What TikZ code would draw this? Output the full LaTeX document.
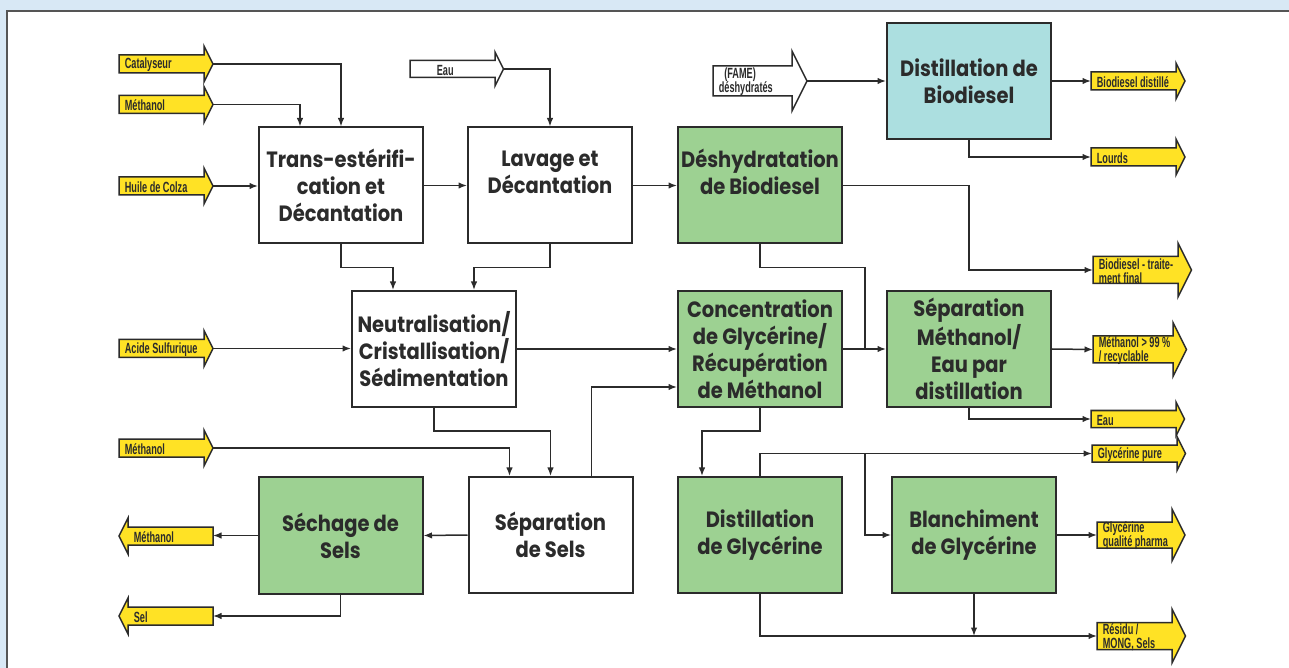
\documentclass[tikz,border=0pt]{standalone}
\usepackage{fontspec}
\setmainfont{Poppins}[FakeStretch=0.88]
\newfontfamily\lblfont{Liberation Sans}[FakeStretch=0.62]
\usetikzlibrary{arrows.meta}

\definecolor{bgblue}{HTML}{D8E8F5}
\definecolor{procgreen}{HTML}{9DD192}
\definecolor{proccyan}{HTML}{ACDFE0}
\definecolor{feedyellow}{HTML}{FFE225}
\definecolor{ink}{HTML}{2B2B2B}

\tikzset{
  proc/.style={draw=ink, line width=0.4mm, fill=white, minimum width=32.8mm,
    minimum height=23.2mm, inner sep=0pt, align=center, text=ink,
    font=\fontsize{12.6}{15.3}\selectfont\bfseries},
  green/.style={proc, fill=procgreen},
  feed/.style={draw=ink, line width=0.3mm, fill=feedyellow},
  feedlbl/.style={inner xsep=1.1mm, inner ysep=0pt, align=left, text=ink,
    font=\lblfont\fontsize{8.4}{8}\selectfont\bfseries},
  flow/.style={draw=ink, line width=0.3mm, -{Latex[length=1.7mm,width=1.3mm]}},
  link/.style={draw=ink, line width=0.3mm}
}

% yellow stream arrows: style, name, x, y, body length, half height, label
\newcommand\feedR[7][]{%
  \filldraw[feed,#1] (#3,#4) ++(0,-#6) -- ++(#5,0) -- ++(0,-#6) -- ++(#6,2*#6)
    -- ++(-#6,2*#6) -- ++(0,-#6) -- ++(-#5,0) -- cycle;
  \coordinate (#2-a) at (#3,#4);
  \path (#3,#4) ++(#5+#6,0) coordinate (#2-b);
  \node[feedlbl, anchor=west] (#2) at (#3,#4+1) {#7};}
\newcommand\feedL[7][]{%
  \filldraw[feed,#1] (#3,#4) ++(0,-#6) -- ++(-#5,0) -- ++(0,-#6) -- ++(-#6,2*#6)
    -- ++(#6,2*#6) -- ++(0,-#6) -- ++(#5,0) -- cycle;
  \coordinate (#2-a) at (#3,#4);
  \node[feedlbl, anchor=west] (#2) at (#3-#5,#4+1) {#7};}

\begin{document}
\begin{tikzpicture}[x=0.2mm, y=-0.2mm]
  \useasboundingbox (0,0) rectangle (1289,668);
  \fill[bgblue] (0,0) rectangle (1289,668);
  \fill[white] (7,11) rectangle (1289,668);
  \draw[line width=0.3mm, ink!80] (7,668) -- (7,11) -- (1289,11);

  % process units
  \node[proc] (T) at (341,185.5) {Trans-estérifi-\\cation et\\Décantation};
  \node[proc] (L) at (550,185.5) {Lavage et\\Décantation\\\mbox{}};
  \node[green] (D) at (760,185.5) {Déshydratation\\de Biodiesel\\\mbox{}};
  \node[proc, fill=proccyan] (DB) at (969,81) {Distillation de\\Biodiesel};
  \node[proc] (N) at (434,349) {Neutralisation/\\Cristallisation/\\Sédimentation};
  \node[green] (C) at (760,349) {Concentration\\de Glycérine/\\Récupération\\de Méthanol};
  \node[green] (SM) at (969,349) {Séparation\\Méthanol/\\Eau par\\distillation};
  \node[proc] (SS) at (550.5,535) {Séparation\\de Sels};
  \node[green] (SC) at (340.5,535.5) {Séchage de\\Sels};
  \node[green] (DG) at (760,535) {Distillation\\de Glycérine};
  \node[green] (B) at (974,535) {Blanchiment\\de Glycérine};

  % feeds and products
  \feedR{cata}{119}{64}{85}{9}{Catalyseur}
  \feedR{meth1}{119}{104.5}{85}{9}{Méthanol}
  \feedR{huile}{119}{186}{85}{9}{Huile de Colza}
  \feedR{acide}{119}{348.5}{85}{9}{Acide Sulfurique}
  \feedR{meth2}{119}{448}{85}{9}{Méthanol}
  \feedR[fill=white]{eau}{410}{69}{85}{8.5}{\hspace{4.2mm}Eau}
  \feedR[fill=white]{fame}{713}{81}{79}{15}{\hspace{1.1mm}(FAME)\\déshydratés}
  \feedR{distil}{1091}{81}{85}{9}{Biodiesel distillé}
  \feedR{lourds}{1091}{157}{85}{9}{Lourds}
  \feedR{btf}{1093}{270}{85}{13.5}{Biodiesel - traite-\\ment final}
  \feedR{meth99}{1093}{349.5}{80}{13.5}{Méthanol > 99 \%\\/ recyclable}
  \feedR{eauout}{1091}{419}{85}{8.5}{Eau}
  \feedR{glypure}{1092}{453.5}{85}{8.5}{Glycérine pure}
  \feedR{pharma}{1097}{535}{75}{13}{Glycérine\\qualité pharma}
  \feedR{residu}{1097}{636}{75}{13.5}{Résidu /\\MONG, Sels}
  \feedL{methout}{213}{536}{85}{9}{Méthanol}
  \feedL{sel}{213}{616}{85}{9}{Sel}

  % streams
  \draw[flow] (cata-b) -| (T.north);
  \draw[flow] (meth1-b) -| ([xshift=-8.2mm]T.north);
  \draw[flow] (huile-b) -- (huile-b -| T.west);
  \draw[flow] (eau-b) -| (L.north);
  \draw[flow] (T.east) -- (L.west);
  \draw[flow] (L.east) -- (D.west);
  \draw[flow] (fame-b) -- (DB.west);
  \draw[flow] (DB.east) -- (distil-a);
  \draw[flow] (DB.south) |- (lourds-a);
  \draw[flow] (D.east) -- (D.east -| DB.south) |- (btf-a);
  \draw[flow] (T.south) -- ++(0,23) -| ([xshift=-8.2mm]N.north);
  \draw[flow] (L.south) -- ++(0,23) -| ([xshift=8mm]N.north);
  \draw[flow] (acide-b) -- (acide-b -| N.west);
  \draw[flow] (N.east) -- (C.west);
  \coordinate (jC) at ([xshift=4.4mm]C.east);
  \draw[link] (D.south) -- ++(0,23) -| (jC);
  \draw[flow] (C.east) -- (SM.west);
  \draw[flow] ([xshift=8.2mm]SS.north) |- ([yshift=-7.6mm]C.west);
  \draw[flow] (N.south) -- ++(0,23) -| (SS.north);
  \draw[flow] (meth2-b) -| ([xshift=-8.2mm]SS.north);
  \draw[flow] (SS.west) -- (SC.east);
  \draw[flow] (SC.west) -- (SC.west -| methout-a);
  \draw[flow] (SC.south) |- (sel-a);
  \draw[flow] (C.south) -- ++(0,23) -| ([xshift=-11.6mm]DG.north);
  \draw[flow] (DG.north) |- (glypure-a);
  \coordinate (jD) at (glypure-a -| jC);
  \draw[flow] (jD) |- (B.west);
  \draw[flow] (B.east) -- (pharma-a);
  \draw[flow] (DG.south) |- (residu-a);
  \draw[flow] (B.south) -- (B.south |- residu-a);
  \draw[flow] (SM.east) -- (meth99-a);
  \draw[flow] (SM.south) |- (eauout-a);
\end{tikzpicture}
\end{document}
